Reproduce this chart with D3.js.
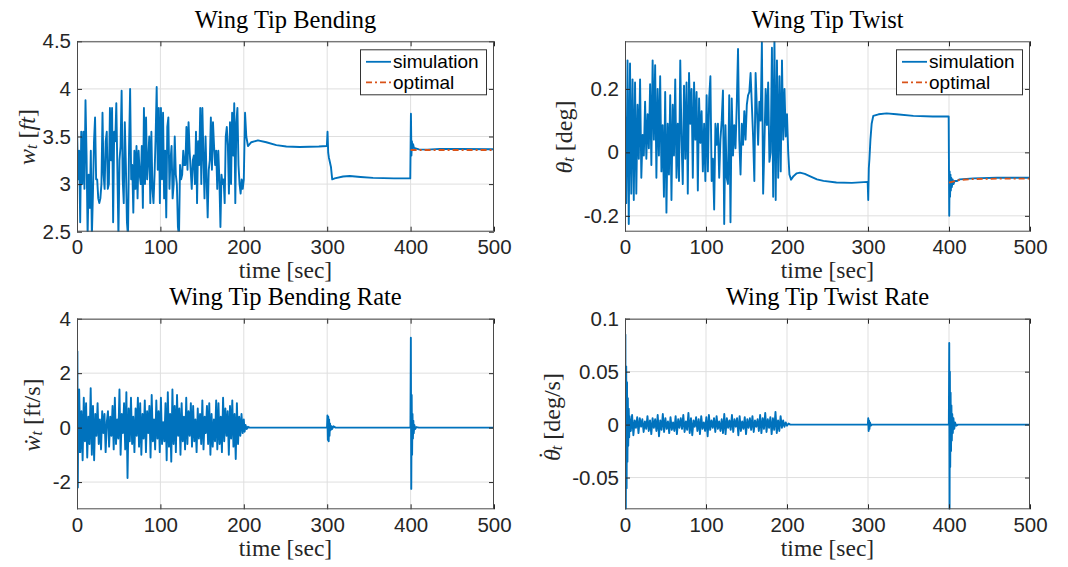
<!DOCTYPE html>
<html><head><meta charset="utf-8">
<script src="https://cdn.jsdelivr.net/npm/d3@7"></script>
<style>html,body{margin:0;padding:0;background:#fff}svg{display:block}</style>
</head><body>
<svg id="chart" width="1068" height="567"></svg>
<script>
// ---------------- data ----------------
const timeTicks = [0, 100, 200, 300, 400, 500];
const bendTicks = [2.5, 3, 3.5, 4, 4.5];
const twistTicks = [-0.2, 0, 0.2];
const bendRateTicks = [-2, 0, 2, 4];
const twistRateTicks = [-0.05, 0, 0.05, 0.1];
const legendLabels = ["simulation", "optimal"];
const titles = ["Wing Tip Bending", "Wing Tip Twist", "Wing Tip Bending Rate", "Wing Tip Twist Rate"];

// wing tip bending: turbulent segment 0-200 s (evenly sampled)
const bendNoise = [3.6, 3.05, 3.35, 2.6, 3.55, 3.0, 3.55, 2.95, 3.88, 3.3, 2.45, 3.1, 2.75, 3.35, 2.45, 2.9, 3.45, 3.7, 3.05, 3.05, 2.85, 2.8, 2.85, 3.0, 3.75, 3.1, 2.95, 3.45, 3.55, 2.95, 3.0, 3.8, 3.25, 3.8, 2.6, 3.55, 3.45, 3.85, 3.15, 2.45, 3.25, 3.4, 3.98, 3.05, 2.8, 3.65, 3.2, 2.6, 2.45, 3.4, 4.0, 3.05, 3.2, 2.7, 3.35, 2.95, 3.4, 2.85, 3.35, 3.1, 3.0, 3.4, 2.75, 3.8, 3.0, 3.7, 3.05, 3.25, 3.5, 2.8, 3.55, 2.95, 2.8, 3.1, 3.5, 4.02, 3.15, 3.8, 2.8, 3.8, 3.05, 3.75, 2.85, 3.35, 2.65, 3.6, 3.7, 2.95, 3.25, 3.4, 2.85, 3.0, 3.5, 3.1, 3.0, 2.55, 2.45, 3.2, 3.05, 3.1, 3.35, 3.2, 3.2, 3.6, 3.15, 3.65, 3.35, 3.15, 2.95, 3.25, 3.3, 3.0, 3.55, 2.8, 3.45, 3.2, 3.8, 3.0, 3.8, 3.3, 2.85, 3.5, 3.05, 2.65, 3.15, 3.25, 3.7, 3.15, 3.65, 3.4, 3.2, 3.35, 2.95, 3.35, 3.05, 2.55, 3.1, 3.0, 3.05, 2.8, 3.5, 3.6, 3.4, 2.9, 3.65, 3.0, 3.75, 3.3, 3.85, 2.8, 3.65, 3.8, 3.2, 3.0, 2.9, 3.05, 2.95, 3.05];
const bendSettled = [[201.5, 3.75], [203, 3.5], [205, 3.40], [209, 3.44], [217, 3.46], [227, 3.44], [239, 3.41], [251, 3.395], [267, 3.39], [290, 3.395], [299.6, 3.40], [300.4, 3.55], [301.2, 3.33], [302, 3.28], [303, 3.24], [304.5, 3.18], [306, 3.05], [309, 3.06], [319, 3.08], [327, 3.085], [340, 3.075], [355, 3.065], [380, 3.06], [399.6, 3.06], [400.4, 3.74], [401, 3.3], [401.6, 3.45], [402.3, 3.36], [403, 3.42], [404, 3.38], [406, 3.375], [410, 3.365], [420, 3.362], [435, 3.37], [460, 3.368], [500, 3.366]];
const bendOptimal = [[400, 3.358], [500, 3.358]];

// wing tip twist
const twistNoise = [0.13, -0.16, 0.29, -0.226, 0.28, -0.13, 0.23, -0.15, 0.22, -0.13, 0.15, -0.02, 0.23, -0.08, 0.055, -0.01, 0.16, -0.02, 0.12, 0.013, 0.215, -0.04, 0.29, 0.04, 0.275, -0.08, 0.2, -0.01, 0.24, -0.06, 0.086, -0.14, 0.19, -0.19, 0.09, -0.07, 0.18, -0.15, 0.15, -0.01, 0.23, -0.08, 0.09, -0.09, 0.29, 0.04, -0.1, 0.21, -0.02, 0.22, -0.13, 0.25, 0.09, 0.2, -0.08, 0.22, 0.04, 0.19, -0.12, 0.17, 0.03, 0.13, -0.06, 0.09, -0.09, 0.18, -0.06, 0.17, 0.24, -0.09, -0.02, -0.18, 0.09, 0.024, 0.09, -0.08, 0.04, 0.1, 0.195, -0.226, 0.086, -0.08, -0.1, 0.18, -0.22, 0.17, -0.01, 0.086, 0.013, 0.15, 0.326, 0.04, -0.07, 0.09, 0.024, 0.13, 0.04, 0.15, 0.18, 0.19, 0.25, 0.15, 0.05, -0.09, 0.25, 0.14, 0.024, 0.16, 0.1, 0.347, -0.13, 0.024, 0.2, 0.086, 0.22, -0.03, 0, 0.33, -0.14, 0.36, -0.15, 0.29, -0.08, 0.24, -0.06, 0.29, 0.04, 0.2, 0.05, 0.12];
const twistSettled = [[201.5, 0.0], [203, -0.07], [205, -0.086], [208, -0.075], [212, -0.066], [216, -0.064], [222, -0.068], [228, -0.075], [237, -0.085], [245, -0.09], [261, -0.095], [280, -0.096], [299.6, -0.093], [300.3, -0.15], [301, -0.05], [301.8, -0.02], [303, 0.04], [304.5, 0.09], [306.5, 0.115], [313, 0.12], [323, 0.123], [335, 0.12], [356, 0.115], [380, 0.113], [399.6, 0.113], [400.3, -0.2], [400.8, -0.06], [401.3, -0.14], [401.8, -0.07], [402.3, -0.12], [402.8, -0.08], [403.5, -0.11], [404.5, -0.085], [405.5, -0.1], [407, -0.09], [410, -0.09], [413, -0.085], [430, -0.082], [459, -0.08], [500, -0.08]];
const twistOptimal = [[400, -0.095], [405, -0.092], [413, -0.087], [430, -0.084], [460, -0.083], [500, -0.083]];

// wing tip bending rate
const bendRateStart = [[0, 0], [0.5, 2.8], [1.0, -2.2], [1.6, 1.2], [2.1, -0.9]];
const bendRateNoise = [1.4, -0.9, 0.6, -1.2, 1.1, -0.5, 0.9, -1.1, 0.4, -0.6, 1.45, -1.0, 0.8, -1.2, 0.5, -0.3, 0.9, -0.6, 0.3, -0.8, 0.6, -0.2, 0.5, -0.9, 0.2, 0.6, -0.7, 0.4, -0.3, 0.8, -0.8, 1.1, -0.6, 0.3, -0.4, 1.4, -1.0, 0.5, -0.2, 0.9, -0.8, 1.3, -1.85, 0.7, -0.5, 1.1, -0.6, 0.4, -0.9, 0.7, -0.3, 1.1, -0.7, 0.9, -1.0, 0.5, -0.4, 1.0, -0.9, 0.6, -0.2, 0.8, -1.1, 1.2, -0.5, 0.3, -0.8, 1.0, -0.4, 0.6, -0.9, 1.1, -0.6, 0.2, -0.5, 0.9, -1.2, 1.3, -0.7, 0.5, -1.25, 1.4, -0.6, 0.8, -0.9, 1.2, -0.3, 0.7, -1.0, 0.9, -0.5, 0.4, -0.8, 1.1, -0.6, 0.6, -0.3, 0.9, -0.7, 0.8, -0.5, 0.3, -0.9, 0.7, -0.4, 0.5, -0.6, 1.0, -0.8, 0.4, -0.2, 0.8, -0.6, 0.9, -1.0, 0.5, -0.7, 0.3, -0.5, 1.0, -0.8, 0.9, -0.6, 0.4, -0.9, 1.1, -0.5, 0.7, -0.3, 0.6, -1.0, 0.8, -0.4, 1.0, -0.7, 0.5, -1.15, 0.9, -0.6, 0.4, -0.3, 0.5, -0.2, 0.3];
const bendRateAfter = [[201, -0.15], [202, 0.1], [203.5, -0.05], [205, 0.03], [207, 0], [299.8, 0], [300.3, 0.45], [300.8, -0.45], [301.3, 0.4], [301.8, -0.5], [302.3, 0.3], [302.8, -0.3], [303.4, 0.15], [304, -0.1], [305, 0.05], [306, -0.05], [307.5, 0.05], [310, 0], [399.8, 0], [400.3, 3.3], [400.8, -2.25], [401.3, 1.2], [401.8, -1.0], [402.3, 0.5], [402.8, -0.4], [403.3, 0.25], [403.8, -0.2], [404.5, 0.1], [405.5, -0.05], [407, 0.02], [410, 0], [500, 0]];

// wing tip twist rate
const twistRateStart = [[0, 0], [0.5, 0.085], [1.0, -0.09], [1.5, 0.055], [2.0, -0.06], [2.5, 0.04], [3.0, -0.035], [3.5, 0.025], [4.0, -0.02], [4.6, 0.015], [5.2, -0.012]];
const twistRateNoise = [0.008, -0.006, 0.009, -0.01, 0.004, -0.003, 0.007, -0.008, 0.006, -0.002, 0.005, -0.007, 0.003, -0.004, 0.008, -0.006, 0.004, -0.009, 0.006, -0.003, 0.005, -0.006, 0.009, -0.011, 0.004, -0.005, 0.01, -0.007, 0.006, -0.004, 0.003, -0.008, 0.007, -0.005, 0.002, -0.006, 0.008, -0.009, 0.005, -0.003, 0.006, -0.004, 0.009, -0.007, 0.003, -0.005, 0.011, -0.008, 0.006, -0.01, 0.004, -0.002, 0.007, -0.006, 0.005, -0.009, 0.008, -0.004, 0.002, -0.006, 0.007, -0.011, 0.009, -0.005, 0.004, -0.003, 0.006, -0.007, 0.008, -0.004, 0.003, -0.006, 0.005, -0.008, 0.01, -0.009, 0.006, -0.003, 0.004, -0.005, 0.009, -0.007, 0.005, -0.002, 0.006, -0.01, 0.008, -0.006, 0.003, -0.004, 0.007, -0.009, 0.005, -0.003, 0.006, -0.005, 0.008, -0.007, 0.004, -0.002, 0.005, -0.006, 0.009, -0.008, 0.006, -0.004, 0.011, -0.007, 0.005, -0.003, 0.007, -0.009, 0.006, -0.005, 0.012, -0.008, 0.004, -0.006, 0.008, -0.003, 0.004, -0.002, 0.002, -0.001];
const twistRateAfter = [[202, 0.001], [204, 0], [299.8, 0], [300.3, 0.006], [300.8, -0.006], [301.3, 0.004], [301.8, -0.004], [302.5, 0.002], [303.5, -0.001], [305, 0], [399.8, 0], [400.3, 0.077], [400.7, -0.09], [401.1, 0.05], [401.5, -0.04], [402, 0.03], [402.5, -0.025], [403, 0.018], [403.5, -0.015], [404, 0.01], [404.7, -0.008], [405.5, 0.006], [406.5, -0.004], [407.5, 0.002], [409, -0.001], [411, 0], [500, 0]];

// ---------------- helpers ----------------
function spread(values, t0, t1) {
  const n = values.length;
  return values.map((v, i) => [t0 + (t1 - t0) * i / (n - 1), v]);
}

const BLUE = "#0072BD", ORANGE = "#D95319", TXT = "#262626";
const SERIF = "'Liberation Serif', 'Times New Roman', serif";
const SANS = "'Liberation Sans', Arial, Helvetica, sans-serif";
const svg = d3.select("#chart");
const defs = svg.append("defs");

function panel(o, idx) {
  const x = d3.scaleLinear().domain([0, 500]).range([o.left, o.right]);
  const y = d3.scaleLinear().domain(o.yDomain).range([o.bottom, o.top]);
  const g = svg.append("g");
  const cid = "clip" + idx;
  defs.append("clipPath").attr("id", cid).append("rect")
    .attr("x", o.left).attr("y", o.top).attr("width", o.right - o.left).attr("height", o.bottom - o.top);

  // grid
  g.append("g").selectAll("line").data(timeTicks.filter(t => t > 0 && t < 500)).join("line")
    .attr("x1", d => x(d)).attr("x2", d => x(d)).attr("y1", o.top).attr("y2", o.bottom)
    .attr("stroke", "#dfdfdf").attr("stroke-width", 1);
  g.append("g").selectAll("line").data(o.yTicks).join("line")
    .attr("x1", o.left).attr("x2", o.right).attr("y1", d => y(d)).attr("y2", d => y(d))
    .attr("stroke", "#dfdfdf").attr("stroke-width", 1);

  // lines
  const line = d3.line().x(d => x(d[0])).y(d => y(d[1]));
  const lg = g.append("g").attr("clip-path", `url(#${cid})`);
  lg.append("path").datum(o.sim).attr("d", line).attr("fill", "none")
    .attr("stroke", BLUE).attr("stroke-width", 1.9).attr("stroke-linejoin", "round");
  if (o.opt) {
    lg.append("path").datum(o.opt).attr("d", line).attr("fill", "none")
      .attr("stroke", ORANGE).attr("stroke-width", 1.8).attr("stroke-dasharray", "6,3,2,3");
  }

  // axes
  const fmt = d => String(d);
  const styleAxis = sel => {
    sel.select(".domain").remove();
    sel.selectAll(".tick line").attr("stroke", TXT);
    sel.selectAll(".tick text").attr("fill", TXT).attr("font-family", SANS).attr("font-size", 20.5);
  };
  g.append("g").attr("transform", `translate(0,${o.bottom})`)
    .call(d3.axisBottom(x).tickValues(timeTicks).tickFormat(fmt).tickSize(-5).tickPadding(8)).call(styleAxis);
  g.append("g").attr("transform", `translate(0,${o.top})`)
    .call(d3.axisTop(x).tickValues(timeTicks).tickFormat("").tickSize(-5)).call(styleAxis);
  g.append("g").attr("transform", `translate(${o.left},0)`)
    .call(d3.axisLeft(y).tickValues(o.yTicks).tickFormat(fmt).tickSize(-5).tickPadding(6)).call(styleAxis);
  g.append("g").attr("transform", `translate(${o.right},0)`)
    .call(d3.axisRight(y).tickValues(o.yTicks).tickFormat("").tickSize(-5)).call(styleAxis);

  g.append("rect").attr("x", o.left + 0.5).attr("y", o.top + 0.5)
    .attr("width", o.right - o.left - 1).attr("height", o.bottom - o.top - 1)
    .attr("fill", "none").attr("stroke", "#4a4a4a").attr("stroke-width", 1);

  // title
  g.append("text").attr("x", (o.left + o.right) / 2).attr("y", o.top - 13.5)
    .attr("text-anchor", "middle").attr("fill", "#000")
    .attr("font-family", SERIF).attr("font-size", 24.5)
    .text(o.title);
  // x label
  g.append("text").attr("x", (o.left + o.right) / 2).attr("y", o.bottom + 46.5)
    .attr("text-anchor", "middle").attr("fill", TXT)
    .attr("font-family", SERIF).attr("font-size", 23.5)
    .text("time [sec]");
  // y label
  const yl = g.append("text").attr("transform", `translate(${o.ylabX},${o.ylabY}) rotate(-90)`)
    .attr("text-anchor", "middle").attr("dominant-baseline", "central").attr("fill", TXT)
    .attr("font-family", SERIF).attr("font-size", 24);
  o.ylabel.forEach(p => {
    const t = yl.append("tspan").text(p.s);
    if (p.it) t.attr("font-style", "italic");
    if (p.sub) t.attr("font-size", 16).attr("baseline-shift", "-25%");
    if (p.dx != null) t.attr("dx", p.dx);
    if (p.dy != null) t.attr("dy", p.dy);
  });

  // legend
  if (o.opt) {
    const w = 126, h = 45;
    const lx = o.right - 8 - w, ly = o.top + 8;
    const lgd = g.append("g");
    lgd.append("rect").attr("x", lx + 0.5).attr("y", ly + 0.5).attr("width", w).attr("height", h)
      .attr("fill", "#fff").attr("stroke", "#333").attr("stroke-width", 1);
    const rows = [{c: BLUE, dash: null}, {c: ORANGE, dash: "6,3,2,3"}];
    legendLabels.forEach((lab, i) => {
      const yy = ly + 12.5 + i * 20.5;
      const ln = lgd.append("line").attr("x1", lx + 6).attr("x2", lx + 31).attr("y1", yy).attr("y2", yy)
        .attr("stroke", rows[i].c).attr("stroke-width", 1.8);
      if (rows[i].dash) ln.attr("stroke-dasharray", rows[i].dash);
      lgd.append("text").attr("x", lx + 33).attr("y", yy).attr("dominant-baseline", "central")
        .attr("fill", "#000").attr("font-family", SANS)
        .attr("font-size", 19).text(lab);
    });
  }
}

const topY = [41.3, 231.7], botY = [318.7, 509.3];
const leftX = [77, 494], rightX = [625, 1030];

panel({
  left: leftX[0], right: leftX[1], top: topY[0], bottom: topY[1],
  yDomain: [2.5, 4.5], yTicks: bendTicks, title: titles[0],
  sim: spread(bendNoise, 0, 200).concat(bendSettled), opt: bendOptimal,
  ylabX: 27, ylabY: 137,
  ylabel: [{s: "w", it: true}, {s: "t", it: true, sub: true}, {s: " [", it: false}, {s: "ft", it: true}, {s: "]", it: false}]
}, 0);
panel({
  left: rightX[0], right: rightX[1], top: topY[0], bottom: topY[1],
  yDomain: [-0.25, 0.35], yTicks: twistTicks, title: titles[1],
  sim: spread(twistNoise, 0, 200).concat(twistSettled), opt: twistOptimal,
  ylabX: 564, ylabY: 137,
  ylabel: [{s: "θ", it: true}, {s: "t", it: true, sub: true}, {s: " [deg]", it: false}]
}, 1);
panel({
  left: leftX[0], right: leftX[1], top: botY[0], bottom: botY[1],
  yDomain: [-3, 4], yTicks: bendRateTicks, title: titles[2],
  sim: bendRateStart.concat(spread(bendRateNoise, 2.6, 200), bendRateAfter), opt: null,
  ylabX: 32, ylabY: 415,
  ylabel: [{s: "w\u0307", it: true}, {s: "t", it: true, sub: true}, {s: " [ft/s]", it: false}]
}, 2);
panel({
  left: rightX[0], right: rightX[1], top: botY[0], bottom: botY[1],
  yDomain: [-0.08, 0.1], yTicks: twistRateTicks, title: titles[3],
  sim: twistRateStart.concat(spread(twistRateNoise, 5.6, 200), twistRateAfter), opt: null,
  ylabX: 552, ylabY: 417,
  ylabel: [{s: "θ", it: true}, {s: "\u02D9", it: false, dx: -10, dy: -5}, {s: "t", it: true, sub: true, dx: 1, dy: 5}, {s: " [deg/s]", it: false}]
}, 3);
</script>
</body></html>
